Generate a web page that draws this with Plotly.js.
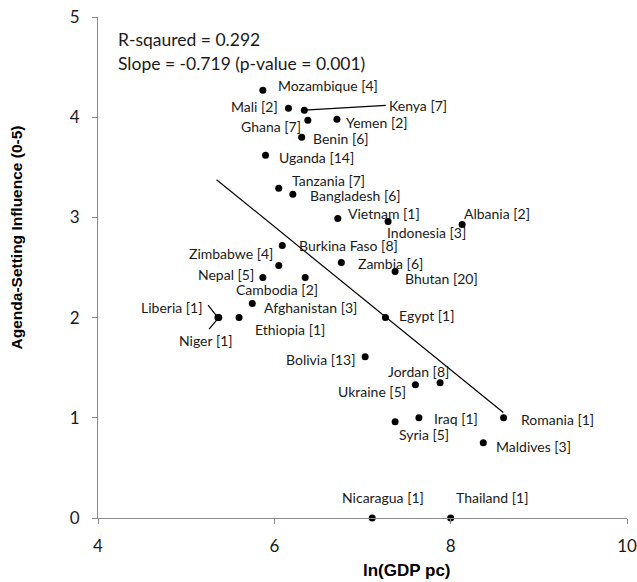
<!DOCTYPE html>
<html>
<head>
<meta charset="utf-8">
<script src="https://cdn.plot.ly/plotly-3.0.1.min.js"></script>
<style>html,body{margin:0;padding:0;background:#fff;}#chart{width:637px;height:582px;}</style>
</head>
<body>
<div id="chart"></div>
<script>
// ---- Data ----
var countries = ["Mozambique","Mali","Kenya","Ghana","Yemen","Benin","Uganda","Tanzania","Bangladesh",
  "Vietnam","Indonesia","Albania","Burkina Faso","Zimbabwe","Zambia","Bhutan","Nepal","Cambodia",
  "Afghanistan","Liberia","Niger","Ethiopia","Egypt","Bolivia","Jordan","Ukraine","Iraq","Syria",
  "Romania","Maldives","Nicaragua","Thailand"];
var experts = [4,2,7,7,2,6,14,7,6, 1,3,2,8,4,6,20,5,2, 3,1,1,1,1,13,8,5,1,5, 1,3,1,1];
var lnGdpPc = [5.87,6.16,6.34,6.38,6.71,6.31,5.90,6.05,6.21, 6.72,7.29,8.13,6.09,6.05,6.76,7.37,5.87,6.35,
  5.75,5.36,5.37,5.60,7.26,7.03,7.88,7.60,7.64,7.37, 8.60,8.37,7.11,8.00];
var influence = [4.27,4.09,4.07,3.97,3.98,3.80,3.62,3.29,3.23, 2.99,2.96,2.93,2.72,2.52,2.55,2.46,2.40,2.40,
  2.14,2.00,2.00,2.00,2.00,1.61,1.35,1.33,1.00,0.96, 1.00,0.75,0.00,0.00];
var trendX = [5.345, 8.597];
var trendY = [3.376, 1.053];
var statLines = ["R-sqaured = 0.292", "Slope = -0.719 (p-value = 0.001)"];
var xTickVals = [4, 6, 8, 10];
var yTickVals = [0, 1, 2, 3, 4, 5];
var xTitle = "ln(GDP pc)";
var yTitle = "Agenda-Setting Influence (0-5)";

// ---- Label placement (pixel offsets from each point: anchor, dx right, dy down) ----
var labelPlace = {
  "Mozambique":["left",14,-5], "Mali":["right",-9,-2], "Kenya":["left",84,-5], "Ghana":["right",-6,6],
  "Yemen":["left",8,3], "Benin":["left",10,1], "Uganda":["left",12,2], "Tanzania":["left",12,-8],
  "Bangladesh":["left",16,1], "Vietnam":["left",9,-5], "Indonesia":["left",-2,11], "Albania":["left",1,-11],
  "Burkina Faso":["left",16,0], "Zimbabwe":["right",-5,-12], "Zambia":["left",16,1], "Bhutan":["left",9,7],
  "Nepal":["right",-8,-3], "Cambodia":["center",-28,12], "Afghanistan":["left",11,4], "Liberia":["right",-15,-10],
  "Niger":["center",-13,23], "Ethiopia":["left",15,12], "Egypt":["left",13,-2], "Bolivia":["right",-9,3],
  "Jordan":["right",10,-11], "Ukraine":["right",-8,7], "Iraq":["left",14,1], "Syria":["left",3,13],
  "Romania":["left",16,2], "Maldives":["left",12,4], "Nicaragua":["center",11,-21], "Thailand":["left",4,-21]
};
// leader lines (tail offset in pixels from the point)
var leaders = {"Kenya":[83,-5], "Liberia":[-11,-14], "Niger":[-11,13]};

var labelFont = {family: "Lato, 'Open Sans', sans-serif", size: 14, color: "#1a1a1a"};
var annotations = [];
for (var i = 0; i < countries.length; i++) {
  var p = labelPlace[countries[i]];
  annotations.push({
    x: lnGdpPc[i], y: influence[i], xref: "x", yref: "y",
    text: countries[i] + " [" + experts[i] + "]",
    showarrow: false, xanchor: p[0], yanchor: "middle",
    xshift: p[1], yshift: -p[2], font: labelFont, borderpad: 0
  });
  var ld = leaders[countries[i]];
  if (ld) {
    annotations.push({
      x: lnGdpPc[i], y: influence[i], xref: "x", yref: "y", text: "",
      showarrow: true, arrowhead: 0, arrowwidth: 1.2, arrowcolor: "#000",
      ax: ld[0], ay: ld[1], standoff: 0, startstandoff: 0
    });
  }
}
annotations.push({
  xref: "paper", yref: "paper", x: 0.034, y: 0.955, xanchor: "left", yanchor: "middle",
  text: statLines[0], showarrow: false,
  font: {family: "Lato, 'Open Sans', sans-serif", size: 17.5, color: "#1a1a1a"}
});
annotations.push({
  xref: "paper", yref: "paper", x: 0.034, y: 0.908, xanchor: "left", yanchor: "middle",
  text: statLines[1], showarrow: false,
  font: {family: "Lato, 'Open Sans', sans-serif", size: 17.5, color: "#1a1a1a"}
});
// axis titles placed as in the reference
annotations.push({
  xref: "paper", yref: "paper", x: 0.585, y: -0.105, xanchor: "center", yanchor: "middle",
  text: "<b>" + xTitle + "</b>", showarrow: false,
  font: {family: "'Liberation Sans', Arial, sans-serif", size: 17, color: "#000"}
});
annotations.push({
  xref: "paper", yref: "paper", x: -0.155, y: 0.56, xanchor: "center", yanchor: "middle",
  text: "<b>" + yTitle + "</b>", showarrow: false, textangle: -90,
  font: {family: "'Liberation Sans', Arial, sans-serif", size: 15.5, color: "#000"}
});

var traces = [
  {x: trendX, y: trendY, mode: "lines", type: "scatter",
   line: {color: "#000", width: 1.2}, hoverinfo: "skip", showlegend: false},
  {x: lnGdpPc, y: influence, mode: "markers", type: "scatter", text: countries,
   marker: {color: "#000", size: 7}, showlegend: false, cliponaxis: false}
];

var axisCommon = {
  showgrid: false, zeroline: false, showline: true, linecolor: "#8a8a8a", linewidth: 1,
  ticks: "outside", ticklen: 5, tickcolor: "#8a8a8a", tickwidth: 1,
  tickfont: {family: "Lato, 'Open Sans', sans-serif", size: 17, color: "#1a1a1a"}
};
var layout = {
  width: 637, height: 582,
  margin: {l: 98, r: 10, t: 17, b: 64},
  paper_bgcolor: "#fff", plot_bgcolor: "#fff",
  showlegend: false,
  xaxis: Object.assign({}, axisCommon, {range: [4, 10], tickvals: xTickVals, ticklabelstandoff: 8}),
  yaxis: Object.assign({}, axisCommon, {range: [0, 5], tickvals: yTickVals, ticklabelstandoff: 9}),
  annotations: annotations
};
Plotly.newPlot("chart", traces, layout, {displayModeBar: false, staticPlot: true});
</script>
</body>
</html>
